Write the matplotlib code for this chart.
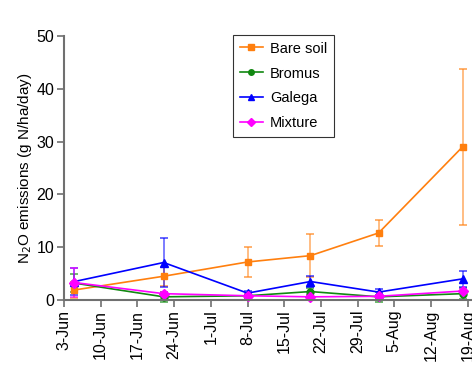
import numpy as np
import matplotlib
matplotlib.use("Agg")
import matplotlib.pyplot as plt
from matplotlib.lines import Line2D
from datetime import date, timedelta

plt.rcParams['font.family'] = ['Liberation Sans', 'DejaVu Sans']

# dates de prélèvement
dates = [date(2013, 6, 5), date(2013, 6, 22), date(2013, 7, 8),
         date(2013, 7, 20), date(2013, 8, 2), date(2013, 8, 18)]

bare_soil = [1.9, 4.5, 7.2, 8.4, 12.7, 29.0]
bare_soil_err = [1.5, 1.8, 2.8, 4.1, 2.4, 14.8]

bromus = [3.2, 0.6, 0.8, 1.6, 0.6, 1.2]
bromus_err = [1.7, 0.9, 0.4, 0.6, 0.9, 1.0]

galega = [3.5, 7.1, 1.3, 3.5, 1.5, 4.0]
galega_err = [2.5, 4.7, 0.4, 1.0, 0.5, 1.5]

mixture = [3.3, 1.2, 0.8, 0.6, 0.7, 1.7]
mixture_err = [2.8, 0.4, 0.3, 0.3, 0.3, 0.4]

series = [
    ("Bare soil", bare_soil, bare_soil_err, '#ff7f0e', 's', 5),
    ("Bromus", bromus, bromus_err, '#118811', 'o', 5),
    ("Galega", galega, galega_err, '#0000ff', '^', 5.5),
    ("Mixture", mixture, mixture_err, '#ff00ff', 'D', 5),
]

fig = plt.figure(figsize=(4.72, 3.73), dpi=100)
ax = fig.add_axes([64 / 472, 1 - 300 / 373, 409 / 472, 264 / 373])

poignees = []
for nom, y, err, couleur, marqueur, taille in series:
    eb = ax.errorbar(dates, y, yerr=err, color=couleur, ecolor=couleur,
                     marker=marqueur, markersize=taille, linewidth=1.2,
                     elinewidth=1.2, capsize=3, capthick=1.2,
                     clip_on=False)
    for barre in eb[2]:
        barre.set_alpha(0.6)
    for cap in eb[1]:
        cap.set_alpha(0.7)
    # légende sans les barres d'erreur
    poignees.append(Line2D([], [], color=couleur, marker=marqueur,
                           markersize=taille * 0.8, linewidth=1.2, label=nom))

ax.set_xlim(date(2013, 6, 3), date(2013, 8, 20))
ax.set_ylim(0, 50)
ax.set_yticks([0, 10, 20, 30, 40, 50])

debut = date(2013, 6, 3)
ticks = [debut + timedelta(days=7 * k) for k in range(12)]
ax.set_xticks(ticks)
ax.set_xticklabels([f"{t.day}-{t.strftime('%b')}" for t in ticks], rotation=90)

for cote in ['top', 'right']:
    ax.spines[cote].set_visible(False)
for cote in ['left', 'bottom']:
    ax.spines[cote].set_color('#707070')
    ax.spines[cote].set_linewidth(1.5)

ax.tick_params(axis='both', colors='#707070', width=1.2, length=5,
               labelcolor='black', labelsize=11.5, pad=2)

ax.set_ylabel("N$_2$O emissions (g N/ha/day)", fontsize=11, labelpad=2)

leg = ax.legend(handles=poignees, loc='upper left',
                bbox_to_anchor=(233 / 472, 1 - 35 / 373),
                bbox_transform=fig.transFigure, frameon=True, fancybox=False,
                edgecolor='black', fontsize=10.5, handlelength=1.6,
                borderpad=0.45, labelspacing=0.75, handletextpad=0.5,
                borderaxespad=0)
leg.get_frame().set_linewidth(0.8)

fig.savefig("out.png", dpi=100)
